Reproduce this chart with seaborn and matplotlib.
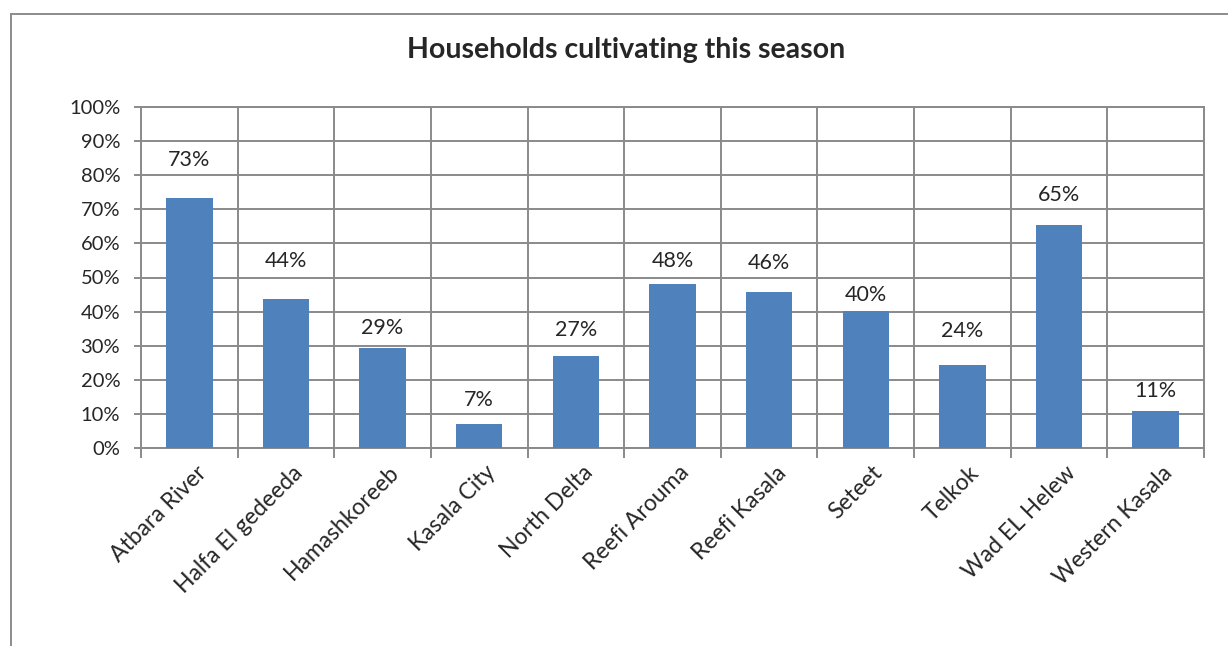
import numpy as np
import pandas as pd
import seaborn as sns
import matplotlib.pyplot as plt
from matplotlib.patches import Rectangle
from matplotlib.ticker import FixedLocator, PercentFormatter
from matplotlib.transforms import ScaledTranslation

# chart data
districts = ['Atbara River', 'Halfa El gedeeda', 'Hamashkoreeb', 'Kasala City', 'North Delta',
             'Reefi Arouma', 'Reefi Kasala', 'Seteet', 'Telkok', 'Wad EL Helew', 'Western Kasala']
share = [73.4, 43.6, 29.2, 7.1, 27.0, 48.2, 45.8, 40.2, 24.4, 65.5, 10.8]
labels = ['73%', '44%', '29%', '7%', '27%', '48%', '46%', '40%', '24%', '65%', '11%']
# gap (px) between bar top and its label, as placed in the original
label_gap = [28, 28, 10, 14, 16, 13, 19, 6, 24, 20, 10]

df = pd.DataFrame({'district': districts, 'share': share})

sns.set_style('white')
plt.rcParams['font.family'] = ['Lato', 'DejaVu Sans']

fig = plt.figure(figsize=(12.28, 6.46), dpi=100)
ax = fig.add_axes([141 / 1228, 1 - 448 / 646, (1204 - 141) / 1228, (448 - 107) / 646])

sns.barplot(data=df, x='district', y='share', color='#4F81BD', width=0.48,
            saturation=1, linewidth=0, ax=ax, zorder=3)

grid_col = '#8A8A8A'
ax.set_ylim(0, 100)
ax.set_xlim(-0.5, len(districts) - 0.5)
ax.yaxis.set_major_locator(FixedLocator(np.arange(0, 101, 10)))
ax.yaxis.set_major_formatter(PercentFormatter(decimals=0))
ax.xaxis.set_minor_locator(FixedLocator(np.arange(-0.5, len(districts), 1)))
ax.grid(axis='y', which='major', color=grid_col, linewidth=1.4, zorder=0)
ax.grid(axis='x', which='minor', color=grid_col, linewidth=1.4, zorder=0)
ax.set_axisbelow(True)
for s in ax.spines.values():
    s.set_color(grid_col)
    s.set_linewidth(1.4)

ax.tick_params(axis='y', which='major', length=5, width=1.4, color=grid_col,
               labelsize=14.5, pad=10, left=True)
ax.tick_params(axis='x', which='major', length=0, labelsize=16.5, pad=10)
ax.tick_params(axis='x', which='minor', length=7, width=1.4, color=grid_col, bottom=True)
ax.set_xticks(range(len(districts)))
ax.set_xticklabels(districts, rotation=45, ha='right', va='top', rotation_mode='anchor')
shift = ScaledTranslation(6 / 100, 0, fig.dpi_scale_trans)
for t in ax.get_xticklabels():
    t.set_transform(t.get_transform() + shift)
ax.set_xlabel('')
ax.set_ylabel('')

for i, (v, lab, g) in enumerate(zip(share, labels, label_gap)):
    ax.annotate(lab, (i, v), xytext=(0, g), textcoords='offset pixels',
                ha='center', va='bottom', fontsize=15.5)

fig.text(626 / 1228, 1 - 50 / 646, 'Households cultivating this season',
         ha='center', va='center', fontsize=20.5, fontweight='bold')

# outer chart frame
top = 1 - 14 / 646
fig.patches.append(Rectangle((11 / 1228, -0.2), 1.2, top + 0.2,
                             transform=fig.transFigure, fill=False,
                             edgecolor='#8C8C8C', linewidth=1.4))

fig.savefig('out.png', dpi=100)
